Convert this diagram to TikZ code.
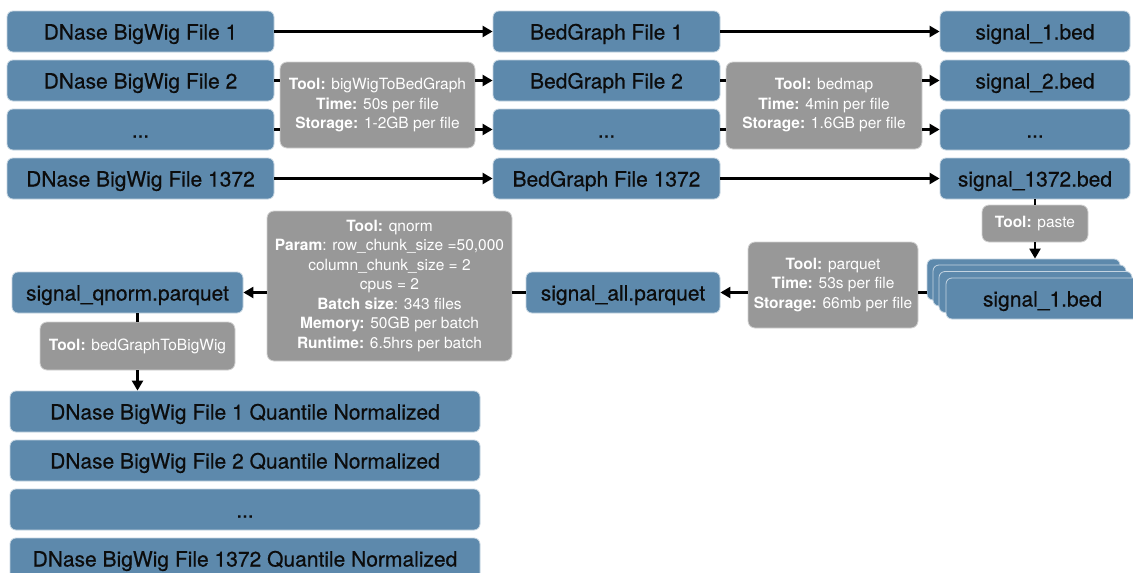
\documentclass[tikz,border=0pt]{standalone}
\usepackage{fontspec}
\setmainfont{TeX Gyre Heros}
\newfontfamily\medfont[FakeBold=0.5]{TeX Gyre Heros}
\usetikzlibrary{arrows.meta}
\definecolor{fileblue}{RGB}{93,137,172}
\definecolor{fileedge}{RGB}{196,212,225}
\definecolor{filetext}{RGB}{12,12,12}
\definecolor{toolgray}{RGB}{152,152,152}
\definecolor{tooledge}{RGB}{210,210,210}
\tikzset{
  filebox/.style={fill=fileblue, draw=fileedge, line width=0.8pt, rounded corners=6pt,
    minimum height=41pt, inner sep=0pt, text=filetext, text height=18pt, text depth=2pt,
    font=\medfont\fontsize{21}{25}\selectfont},
  toolbox/.style={fill=toolgray, draw=tooledge, line width=0.8pt, rounded corners=7pt,
    inner sep=0pt, align=center, text=white, font=\fontsize{15.5}{19.5}\selectfont},
  arr/.style={line width=2.3pt, -{Triangle[length=10pt,width=11pt]}},
  ln/.style={line width=2.3pt},
}
\begin{document}
\begin{tikzpicture}[x=1pt,y=-1pt]
\clip (0,0) rectangle (1133,573);
\fill[white] (0,0) rectangle (1133,573);
% column 1
\node[filebox, minimum width=267pt] (a1) at (140.5,31.5) {DNase BigWig File 1};
\node[filebox, minimum width=267pt] (a2) at (140.5,80.5) {DNase BigWig File 2};
\node[filebox, minimum width=267pt] (a3) at (140.5,129.5) {...};
\node[filebox, minimum width=267pt] (a4) at (140.5,178.5) {DNase BigWig File 1372};
% column 2
\node[filebox, minimum width=227pt] (b1) at (606.5,31.5) {BedGraph File 1};
\node[filebox, minimum width=227pt] (b2) at (606.5,80.5) {BedGraph File 2};
\node[filebox, minimum width=227pt] (b3) at (606.5,129.5) {...};
\node[filebox, minimum width=227pt] (b4) at (606.5,178.5) {BedGraph File 1372};
% column 3
\node[filebox, minimum width=190pt] (c1) at (1035,31.5) {signal\_1.bed};
\node[filebox, minimum width=190pt] (c2) at (1035,80.5) {signal\_2.bed};
\node[filebox, minimum width=190pt] (c3) at (1035,129.5) {...};
\node[filebox, minimum width=190pt] (c4) at (1035,178.5) {signal\_1372.bed};
% tools
\node[toolbox, minimum width=195pt, minimum height=86pt] (t1) at (377.5,105)
  {\textbf{Tool:} bigWigToBedGraph\\\textbf{Time:} 50s per file\\\textbf{Storage:} 1-2GB per file};
\node[toolbox, minimum width=196pt, minimum height=87pt] (t2) at (824,105.5)
  {\textbf{Tool:} bedmap\\\textbf{Time:} 4min per file\\\textbf{Storage:} 1.6GB per file};
\node[toolbox, minimum width=106pt, minimum height=37pt] (paste) at (1035,223.5) {\textbf{Tool:} paste};
% stacked signal files
\node[filebox, minimum width=193pt] (s1) at (1023.5,279.5) {};
\node[filebox, minimum width=193pt] (s2) at (1029.5,285.5) {};
\node[filebox, minimum width=193pt] (s3) at (1035.5,292) {};
\node[filebox, minimum width=193pt] (s4) at (1042.5,298.5) {signal\_1.bed};
\node[toolbox, minimum width=170pt, minimum height=86pt] (tp) at (833,285)
  {\textbf{Tool:} parquet\\\textbf{Time:} 53s per file\\\textbf{Storage:} 66mb per file};
\node[filebox, minimum width=194pt] (all) at (623,292.5) {signal\_all.parquet};
\node[toolbox, minimum width=245pt, minimum height=150pt] (tq) at (389.5,286)
  {\textbf{Tool:} qnorm\\\textbf{Param}: row\_chunk\_size =50,000\\column\_chunk\_size = 2\\cpus = 2\\\textbf{Batch size}: 343 files\\\textbf{Memory:} 50GB per batch\\\textbf{Runtime:} 6.5hrs per batch};
\node[filebox, minimum width=231pt] (qn) at (127.5,292.5) {signal\_qnorm.parquet};
\node[toolbox, minimum width=195pt, minimum height=48pt] (tb) at (137.5,346) {\textbf{Tool:} bedGraphToBigWig};
% bottom
\node[filebox, minimum width=470pt] (d1) at (245,411.5) {DNase BigWig File 1 Quantile Normalized};
\node[filebox, minimum width=470pt] (d2) at (245,460.5) {DNase BigWig File 2 Quantile Normalized};
\node[filebox, minimum width=470pt] (d3) at (245,509.5) {...};
\node[filebox, minimum width=470pt] (d4) at (245,558.5) {DNase BigWig File 1372 Quantile Normalized};
% connectors
\draw[arr] (a1.east) -- (b1.west);
\draw[ln] (a2.east) -- (t1.west |- a2);
\draw[ln] (a3.east) -- (t1.west |- a3);
\draw[arr] (t1.east |- b2) -- (b2.west);
\draw[arr] (t1.east |- b3) -- (b3.west);
\draw[arr] (a4.east) -- (b4.west);
\draw[arr] (b1.east) -- (c1.west);
\draw[ln] (b2.east) -- (t2.west |- b2);
\draw[ln] (b3.east) -- (t2.west |- b3);
\draw[arr] (t2.east |- c2) -- (c2.west);
\draw[arr] (t2.east |- c3) -- (c3.west);
\draw[arr] (b4.east) -- (c4.west);
\draw[ln] (c4.south) -- (paste.north);
\draw[arr] (paste.south) -- (paste.south |- s1.north);
\draw[ln] (s1.west |- all) -- (tp.east |- all);
\draw[arr] (tp.west |- all) -- (all.east);
\draw[ln] (all.west) -- (tq.east |- all);
\draw[arr] (tq.west |- qn) -- (qn.east);
\draw[ln] (tb.north |- qn.south) -- (tb.north);
\draw[arr] (tb.south) -- (tb.south |- d1.north);
\end{tikzpicture}
\end{document}
